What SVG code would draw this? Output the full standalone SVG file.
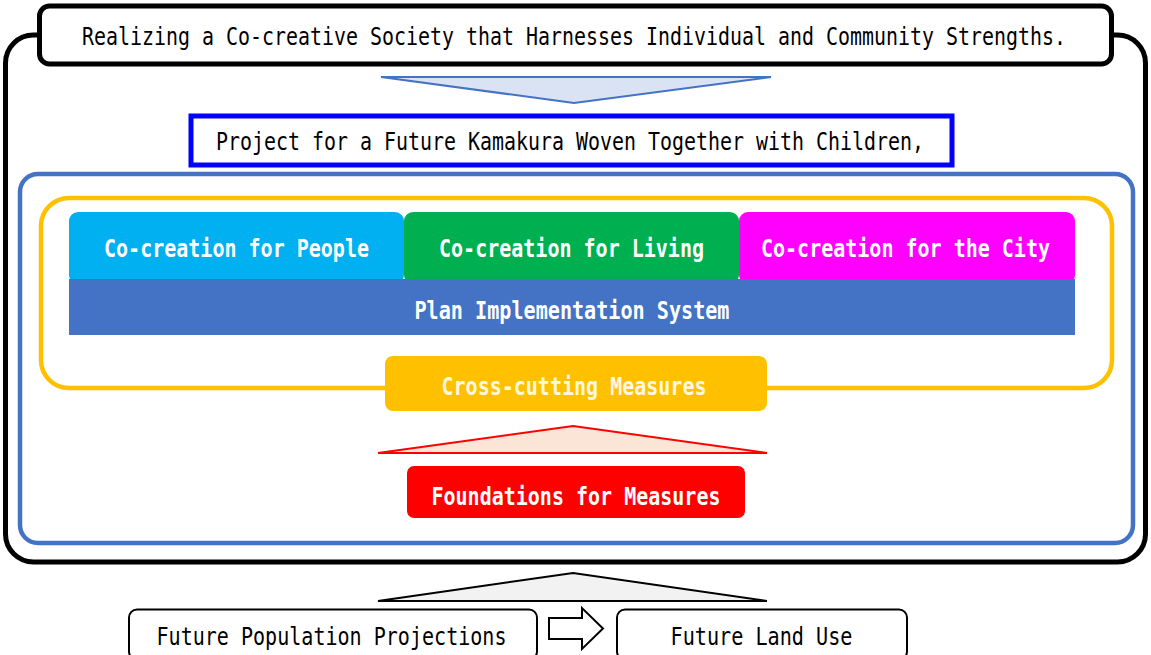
<svg xmlns="http://www.w3.org/2000/svg" width="1151" height="655" viewBox="0 0 1151 655">
<style>
  .t { font-family: "DejaVu Sans Mono", "Liberation Mono", monospace; font-size: 20px; }
  .dark { fill: #000; }
  .light { fill: #fff; font-weight: bold; }
  .frame { fill: none; }
</style>
<rect width="1151" height="655" fill="#fff"/>

<g id="outer-frame">
  <rect x="5.5" y="35" width="1140" height="527" rx="28" fill="#fff" stroke="#000" stroke-width="5"/>
</g>

<g id="title">
  <rect x="39.5" y="6" width="1072" height="58" rx="10" fill="#fff" stroke="#000" stroke-width="5"/>
  <text class="t dark" transform="translate(82,45) scale(1,1.25)" x="0" y="0" textLength="984" lengthAdjust="spacingAndGlyphs">Realizing a Co-creative Society that Harnesses Individual and Community Strengths.</text>
</g>

<g id="project">
  <rect x="191" y="116" width="761" height="49" fill="#fff" stroke="#0000ff" stroke-width="5"/>
  <text class="t dark" transform="translate(216,150) scale(1,1.25)" x="0" y="0" textLength="708" lengthAdjust="spacingAndGlyphs">Project for a Future Kamakura Woven Together with Children,</text>
</g>

<g id="project-frame">
  <rect x="20" y="174" width="1113" height="369" rx="18" class="frame" stroke="#4472c4" stroke-width="4.5"/>
</g>

<g id="measures-frame">
  <rect x="41" y="198" width="1071" height="190" rx="28" class="frame" stroke="#ffc000" stroke-width="4.5"/>
</g>

<g id="people">
  <rect x="69" y="212" width="335" height="72" rx="9" fill="#00b0f0"/>
  <text class="t light" transform="translate(104,257) scale(1,1.25)" x="0" y="0" textLength="265" lengthAdjust="spacingAndGlyphs">Co-creation for People</text>
</g>

<g id="living">
  <rect x="404" y="212" width="335" height="72" rx="9" fill="#00b050"/>
  <text class="t light" transform="translate(439,257) scale(1,1.25)" x="0" y="0" textLength="265" lengthAdjust="spacingAndGlyphs">Co-creation for Living</text>
</g>

<g id="city">
  <rect x="739" y="212" width="336" height="72" rx="9" fill="#ff00ff"/>
  <text class="t light" transform="translate(761,257) scale(1,1.25)" x="0" y="0" textLength="289" lengthAdjust="spacingAndGlyphs">Co-creation for the City</text>
</g>

<g id="plan">
  <rect x="69" y="279" width="1006" height="56" fill="#4472c4"/>
  <text class="t light" transform="translate(414.5,319) scale(1,1.25)" x="0" y="0" textLength="315" lengthAdjust="spacingAndGlyphs">Plan Implementation System</text>
</g>

<g id="cross-cutting">
  <rect x="385" y="356" width="382" height="55" rx="8" fill="#ffc000"/>
  <text class="t light" transform="translate(441.5,395) scale(1,1.25)" x="0" y="0" textLength="265" lengthAdjust="spacingAndGlyphs" style="fill:#fff8e0">Cross-cutting Measures</text>
</g>

<g id="foundations">
  <rect x="407" y="466" width="338" height="52" rx="7" fill="#ff0000"/>
  <text class="t light" transform="translate(431.5,505) scale(1,1.25)" x="0" y="0" textLength="289" lengthAdjust="spacingAndGlyphs">Foundations for Measures</text>
</g>

<g id="population">
  <rect x="129" y="609.5" width="408" height="50" rx="8" fill="#fff" stroke="#000" stroke-width="2"/>
  <text class="t dark" transform="translate(156.5,645) scale(1,1.25)" x="0" y="0" textLength="350" lengthAdjust="spacingAndGlyphs">Future Population Projections</text>
</g>

<g id="land-use">
  <rect x="617" y="609.5" width="290" height="50" rx="8" fill="#fff" stroke="#000" stroke-width="2"/>
  <text class="t dark" transform="translate(670.5,645) scale(1,1.25)" x="0" y="0" textLength="182" lengthAdjust="spacingAndGlyphs">Future Land Use</text>
</g>

<g id="connectors">
  <polygon points="381,77 771,77 574,103" fill="#dae3f3" stroke="#4472c4" stroke-width="2"/>
  <polygon points="378,453 767,453 573,426" fill="#fbe5d6" stroke="#ff0000" stroke-width="2"/>
  <polygon points="378,601 767,601 573,573" fill="#f2f2f2" stroke="#000" stroke-width="2"/>
  <polygon points="549,618 582,618 582,608 603,628.5 582,649 582,639 549,639" fill="#fff" stroke="#000" stroke-width="2"/>
</g>
</svg>
